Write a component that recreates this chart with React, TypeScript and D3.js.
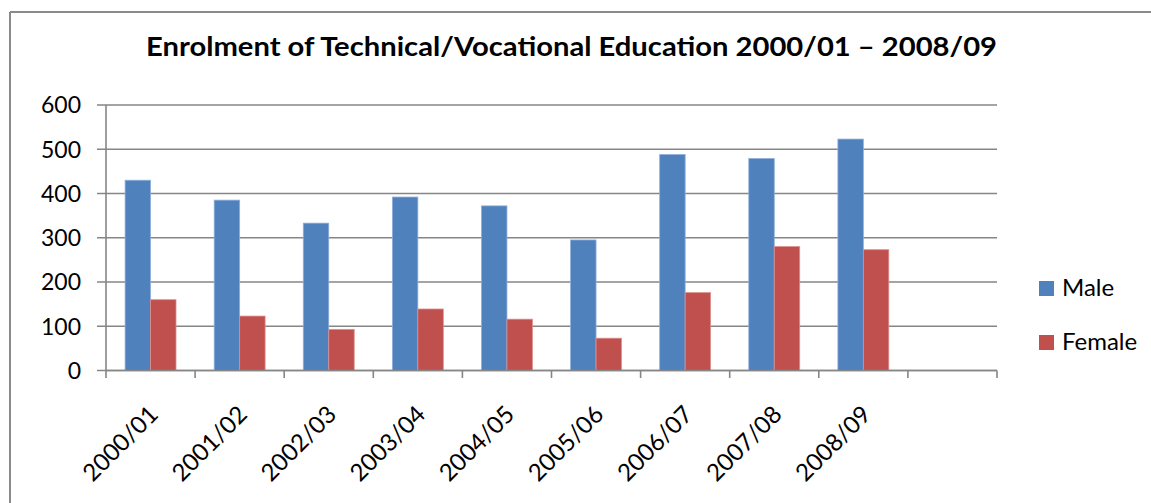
import React from "react";
import * as d3 from "d3";

const title = "Enrolment of Technical/Vocational Education 2000/01 \u2013 2008/09";
// 10 category slots; the last slot in the original chart is empty
const categories = ["2000/01", "2001/02", "2002/03", "2003/04", "2004/05", "2005/06", "2006/07", "2007/08", "2008/09", ""];
const male = [430, 385, 333, 392, 372, 295, 488, 479, 523];
const female = [160, 123, 93, 139, 116, 73, 176, 280, 273];
const yTicks = [0, 100, 200, 300, 400, 500, 600];
const seriesNames = ["Male", "Female"];
const seriesColors = ["#4F81BD", "#C0504D"];

const W = 1151;
const H = 503;
const FONT = "Lato, 'Open Sans', 'Liberation Sans', sans-serif";

export default function App() {
  const x0 = 106, x1 = 997;
  const yZero = 370.5, yTop = 105;

  const x = d3.scaleBand<string>().domain(categories).range([x0, x1]).paddingInner(0).paddingOuter(0);
  const y = d3.scaleLinear().domain([0, 600]).range([yZero, yTop]);
  const slot = x.bandwidth();
  // Excel gap width 150%: slot = 2*bar + 1.5*bar
  const barW = slot / 3.5;
  const inner = d3.scaleBand<number>().domain([0, 1]).range([0, 2 * barW]);

  const series = [male, female];
  const gridColor = "#868686";
  const boundaries = d3.range(categories.length + 1).map((i) => x0 + i * slot);

  return (
    <svg width={W} height={H} style={{ position: "absolute", left: 0, top: 0, background: "#fff" }}>
      <rect x={0} y={0} width={W} height={H} fill="#fff" />
      {/* outer frame */}
      <line x1={10} y1={12} x2={W} y2={12} stroke="#8a8a8a" strokeWidth={2} />
      <line x1={10} y1={12} x2={10} y2={H} stroke="#8a8a8a" strokeWidth={2} />

      <text x={(146 + 997) / 2} y={56} textAnchor="middle" fontFamily={FONT} fontWeight="bold" fontSize={26}
        textLength={851} lengthAdjust="spacingAndGlyphs" fill="#000">{title}</text>

      {/* gridlines */}
      {yTicks.map((t) => (
        <g key={"g" + t}>
          <line x1={x0 - 9} x2={x1} y1={y(t)} y2={y(t)} stroke={gridColor} strokeWidth={1.6} />
          <text x={81} y={y(t)} dy="0.36em" textAnchor="end" fontFamily={FONT} fontSize={23} fill="#000">{t}</text>
        </g>
      ))}

      {/* bars */}
      {series.map((vals, si) =>
        vals.map((v, i) => (
          <rect key={si + "-" + i}
            x={(x(categories[i]) as number) + (slot - 2 * barW) / 2 + (inner(si) as number)}
            y={y(v)} width={barW} height={yZero - y(v)}
            fill={seriesColors[si]} stroke={si === 0 ? "#8eaedb" : "#dc8f8d"} strokeWidth={0.8} />
        ))
      )}

      {/* axes */}
      <line x1={x0} x2={x0} y1={yTop} y2={yZero} stroke={gridColor} strokeWidth={1.6} />
      <line x1={x0} x2={x1} y1={yZero} y2={yZero} stroke={gridColor} strokeWidth={1.6} />
      {boundaries.map((bx, i) => (
        <line key={"t" + i} x1={bx} x2={bx} y1={yZero} y2={yZero + 7.5} stroke={gridColor} strokeWidth={1.6} />
      ))}

      {/* category labels */}
      {categories.map((c) => {
        if (!c) return null;
        const cx = (x(c) as number) + slot / 2;
        const px = cx + 9, py = 416;
        return (
          <text key={c} x={px} y={py} transform={`rotate(-45 ${px} ${py})`} textAnchor="end"
            fontFamily={FONT} fontSize={24} fill="#000">{c}</text>
        );
      })}

      {/* legend */}
      {seriesNames.map((n, i) => (
        <g key={n}>
          <rect x={1039} y={281 + i * 54} width={15} height={15} fill={seriesColors[i]} />
          <text x={1062} y={296 + i * 54} fontFamily={FONT} fontSize={24} fill="#000">{n}</text>
        </g>
      ))}
    </svg>
  );
}
